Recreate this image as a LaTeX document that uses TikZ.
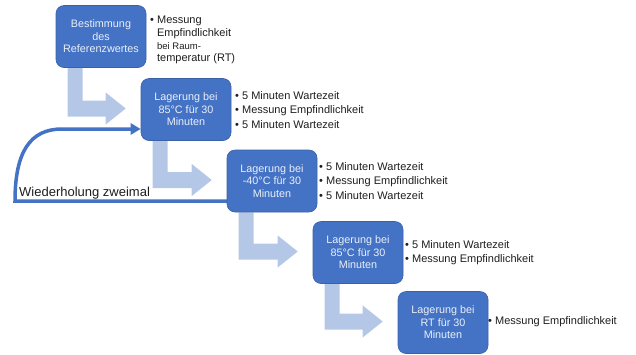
\documentclass[tikz,border=0pt]{standalone}
\usepackage{fontspec}
\setmainfont{Liberation Sans}
\usetikzlibrary{calc,arrows.meta}
\pgfdeclarelayer{background}
\pgfsetlayers{background,main}
\definecolor{boxblue}{HTML}{4472C4}
\definecolor{paleblue}{HTML}{B4C7E7}
\definecolor{boxtext}{HTML}{EAF0F9}
\definecolor{inkgray}{HTML}{1E1E1E}
\tikzset{
  stage/.style={fill=boxblue, draw=boxblue!85!black, line width=0.6pt,
    rounded corners=8pt, minimum width=90pt, minimum height=62pt,
    inner sep=2pt, align=center, text=boxtext,
    font=\fontsize{10.8}{12.5}\selectfont},
  notes/.style={anchor=west, align=left, inner sep=0pt, text=inkgray,
    font=\fontsize{11}{14.5}\selectfont},
  flow/.style={fill=paleblue},
  repeatline/.style={draw=boxblue, line width=3.5pt,
    -{Triangle[length=10pt,width=11pt]}},
}
% pale bent arrow: down from the bottom of #1, then right towards #2
\newcommand{\flowarrow}[2]{%
  \fill[flow] let \p1=(#1.south west), \p2=(#2.west) in
    (\x1+12pt,\y1) -- (\x1+27pt,\y1) -- (\x1+27pt,\y2+9pt)
    -- (\x2-35pt,\y2+9pt) -- (\x2-35pt,\y2+17pt) -- (\x2-15pt,\y2+1pt)
    -- (\x2-35pt,\y2-15pt) -- (\x2-35pt,\y2-7pt) -- (\x1+12pt,\y2-7pt) -- cycle;}
\begin{document}
\begin{tikzpicture}[x=1pt,y=-1pt]
\useasboundingbox (0,0) rectangle (636,354);

% stages
\node[stage] (b1) at (101,36.5) {Bestimmung\\des\\Referenzwertes};
\node[stage] (b2) at (186,109.5) {Lagerung bei\\85°C für 30\\Minuten};
\node[stage] (b3) at (272,181) {Lagerung bei\\-40°C für 30\\Minuten};
\node[stage] (b4) at (358,252.5) {Lagerung bei\\85°C für 30\\Minuten};
\node[stage] (b5) at (443,322.5) {Lagerung bei\\RT für 30\\Minuten};

\begin{pgfonlayer}{background}
% pale connectors between the stages
\flowarrow{b1}{b2}
\flowarrow{b2}{b3}
\flowarrow{b3}{b4}
\flowarrow{b4}{b5}
% repetition loop from the -40°C stage back to the first 85°C stage
\coordinate (upper) at (62,129);
\coordinate (corner) at (15,201);
\draw[repeatline] ($(b3.west)+(4,20)$) -- (corner)
  .. controls (15,152) and (30,129) .. (upper) -- (b2.west |- upper);
\end{pgfonlayer}
\node[anchor=base west, inner sep=0pt, text=inkgray,
  font=\fontsize{13}{15}\selectfont] (rep) at (19,196) {Wiederholung zweimal};

% notes beside each stage
\node[notes, font=\fontsize{11}{12.8}\selectfont] (n1) at (150,40)
  {• Messung\\\hphantom{• }Empfindlichkeit\\\hphantom{• }{\fontsize{9.5}{12.8}\selectfont bei Raum-}\\\hphantom{• }temperatur (RT)};
\node[notes] (n2) at (235,110)
  {• 5 Minuten Wartezeit\\• Messung Empfindlichkeit\\• 5 Minuten Wartezeit};
\node[notes] (n3) at (319,181)
  {• 5 Minuten Wartezeit\\• Messung Empfindlichkeit\\• 5 Minuten Wartezeit};
\node[notes] (n4) at (405,252.5)
  {• 5 Minuten Wartezeit\\• Messung Empfindlichkeit};
\node[notes] (n5) at (488,322) {• Messung Empfindlichkeit};
\end{tikzpicture}
\end{document}
